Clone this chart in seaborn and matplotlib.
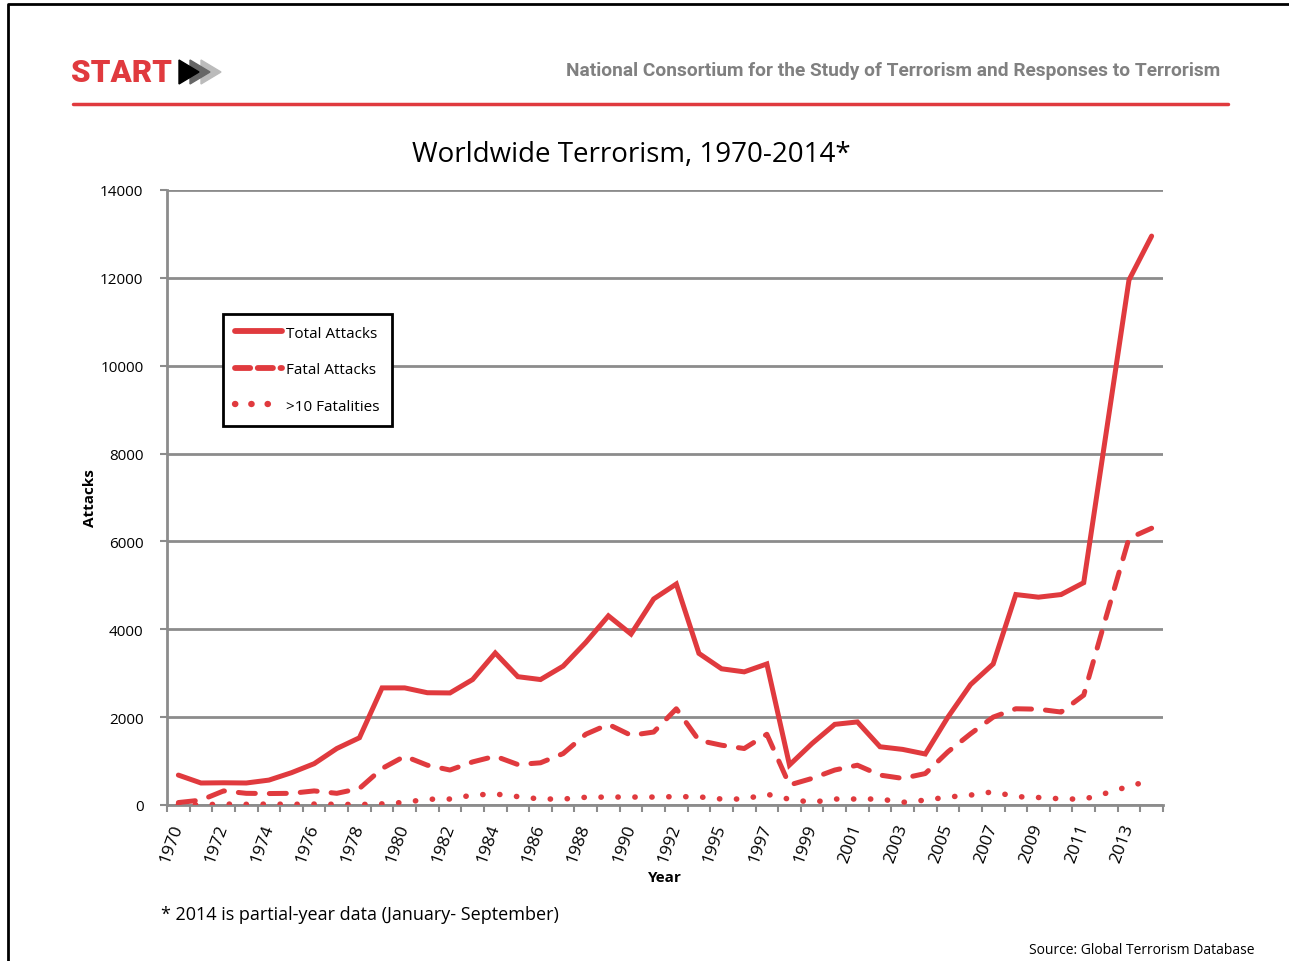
import numpy as np
import pandas as pd
import seaborn as sns
from matplotlib import pyplot as plt
from matplotlib.lines import Line2D
from matplotlib.patches import Polygon

years = ['1970', '1971', '1972', '1973', '1974', '1975', '1976', '1977', '1978', '1979',
         '1980', '1981', '1982', '1983', '1984', '1985', '1986', '1987', '1988', '1989',
         '1990', '1991', '1992', '1994', '1995', '1996', '1997', '1998', '1999', '2000',
         '2001', '2002', '2003', '2004', '2005', '2006', '2007', '2008', '2009', '2010',
         '2011', '2012', '2013', '2014']

total_attacks = [680, 500, 505, 500, 566, 735, 940, 1285, 1530, 2665,
                 2665, 2555, 2550, 2855, 3460, 2920, 2855, 3160, 3700, 4305,
                 3890, 4690, 5030, 3450, 3100, 3030, 3210, 910, 1400, 1835,
                 1890, 1325, 1265, 1160, 2000, 2740, 3210, 4790, 4730, 4790,
                 5060, 8500, 11950, 12950]

fatal_attacks = [55, 110, 320, 265, 260, 265, 320, 265, 375, 830,
                 1110, 905, 795, 980, 1110, 920, 960, 1170, 1610, 1835,
                 1585, 1660, 2190, 1470, 1360, 1285, 1610, 455, 605, 795,
                 905, 680, 605, 715, 1210, 1620, 2000, 2190, 2180, 2115,
                 2500, 4300, 6070, 6300]

over_10_fatalities = [10, 5, 20, 15, 20, 15, 20, 15, 10, 25,
                      60, 130, 135, 225, 250, 190, 135, 135, 175, 180,
                      180, 180, 190, 185, 135, 135, 245, 130, 60, 135,
                      135, 135, 60, 110, 180, 225, 300, 190, 170, 140,
                      130, 270, 425, 565]

red = '#E03A3E'
grid_grey = '#8c8c8c'

sns.set_style('white')
plt.rcParams['font.family'] = ['Open Sans', 'DejaVu Sans']
plt.rcParams['text.color'] = 'black'
plt.rcParams['xtick.color'] = 'black'
plt.rcParams['ytick.color'] = 'black'
plt.rcParams['axes.labelcolor'] = 'black'

fig = plt.figure(figsize=(12.89, 9.62), dpi=100)
ax = fig.add_axes([0.1296, 0.1622, 0.7726, 0.6393])

idx = np.arange(len(years))
lw = 3.6
sns.lineplot(x=idx, y=total_attacks, ax=ax, color=red, lw=lw,
             solid_capstyle='round', solid_joinstyle='miter', zorder=4)
sns.lineplot(x=idx, y=fatal_attacks, ax=ax, color=red, lw=lw, zorder=4)
ax.lines[-1].set_dashes([3.4, 2.8])
ax.lines[-1].set_dash_capstyle('round')
sns.lineplot(x=idx, y=over_10_fatalities, ax=ax, color=red, lw=4, zorder=4)
ax.lines[-1].set_dashes([0.05, 3.0])
ax.lines[-1].set_dash_capstyle('round')

ax.set_xlim(-0.5, len(years) - 0.5)
ax.set_ylim(0, 14000)
ax.set_yticks(range(0, 14001, 2000))
ax.yaxis.grid(True, color=grid_grey, lw=2)
ax.set_axisbelow(True)
for s in ['top', 'right']:
    ax.spines[s].set_visible(False)
for s in ['left', 'bottom']:
    ax.spines[s].set_color(grid_grey)
    ax.spines[s].set_linewidth(2)

ax.tick_params(axis='y', which='major', length=5, width=1.5, color=grid_grey,
               direction='out', left=True, labelsize=11, pad=12)
ax.set_xticks(idx[::2])
ax.set_xticklabels(years[::2], rotation=70, ha='right', va='center',
                   rotation_mode='anchor', fontsize=12.5)
ax.set_xticks(np.arange(-0.5, len(years)), minor=True)
ax.tick_params(axis='x', which='major', length=0, pad=14)
ax.tick_params(axis='x', which='minor', length=5, width=1.5, color=grid_grey,
               direction='out', bottom=True)

ax.set_xlabel('Year', fontsize=11, fontweight='bold', labelpad=4)
ax.set_ylabel('Attacks', fontsize=11, fontweight='bold', labelpad=2)
fig.text(0.4895, 0.839, 'Worldwide Terrorism, 1970-2014*', fontsize=20,
         ha='center', va='center')

handles = [
    Line2D([], [], color=red, lw=4.2),
    Line2D([], [], color=red, lw=4.2, dashes=[2.6, 1.3], dash_capstyle='round'),
    Line2D([], [], color=red, lw=4.6, dashes=[0.05, 2.5], dash_capstyle='round'),
]
leg = ax.legend(handles, ['Total Attacks', 'Fatal Attacks', '>10 Fatalities'],
                loc='upper left', bbox_to_anchor=(0.056, 0.799), fontsize=11,
                frameon=True, fancybox=False, handlelength=3.1, handletextpad=0.25,
                labelspacing=1.4, borderpad=0.8, borderaxespad=0)
leg.get_frame().set_edgecolor('black')
leg.get_frame().set_linewidth(2)
leg.get_frame().set_alpha(1)

# header
fig.text(0.055, 0.924, 'START', color=red, fontsize=22.5, fontweight='heavy',
         family=['Roboto', 'DejaVu Sans'], va='center')
for k, c in enumerate(['black', '#666666', '#bbbbbb']):
    x0 = 179 + k * 11
    tri = Polygon([[x0 / 1289, 1 - 61 / 962], [x0 / 1289, 1 - 85 / 962],
                   [(x0 + 20) / 1289, 1 - 73 / 962]], closed=True,
                  transform=fig.transFigure, color=c, zorder=3 - k)
    fig.add_artist(tri)
fig.text(0.947, 0.926, 'National Consortium for the Study of Terrorism and Responses to Terrorism',
         color='#808080', fontsize=13.8, fontweight='bold', ha='right', va='center',
         family=['Roboto', 'DejaVu Sans'])
fig.add_artist(Line2D([0.0566, 0.953], [0.891, 0.891], color=red, lw=2.5,
                      transform=fig.transFigure))

# border
fig.add_artist(Line2D([0.0062, 0.0062, 1.0], [0.0, 0.9948, 0.9948], color='black',
                      lw=2, transform=fig.transFigure))

fig.text(0.125, 0.049, '* 2014 is partial-year data (January- September)', fontsize=13,
         va='center')
fig.text(0.973, 0.012, 'Source: Global Terrorism Database', fontsize=10,
         ha='right', va='center')

plt.savefig('out.png', dpi=100)
